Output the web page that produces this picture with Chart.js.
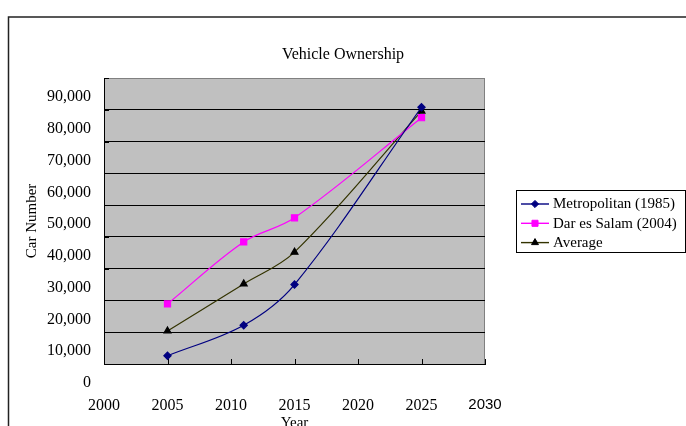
<!DOCTYPE html>
<html>
<head>
<meta charset="utf-8">
<script src="https://cdn.jsdelivr.net/npm/chart.js@4/dist/chart.umd.min.js"></script>
<style>
  html, body { margin: 0; padding: 0; background: #ffffff; }
  #wrap { position: relative; width: 686px; height: 426px; overflow: hidden; }
  canvas { display: block; }
</style>
</head>
<body>
<div id="wrap"><canvas id="c" width="686" height="426"></canvas></div>
<script>
// ---- data ----
const years = [2005, 2011, 2015, 2025];
const metropolitan = [2600, 12200, 25000, 80800];
const darEsSalam = [18900, 38400, 46000, 77500];
const average = [10400, 25200, 35200, 79600];
const seriesLabels = ['Metropolitan (1985)', 'Dar es Salam (2004)', 'Average'];
const xTicks = [2000, 2005, 2010, 2015, 2020, 2025, 2030];
const yTicks = [0, 10000, 20000, 30000, 40000, 50000, 60000, 70000, 80000, 90000];

const SERIF = "'Liberation Serif', 'Times New Roman', serif";
const SANS = "'Liberation Sans', Arial, sans-serif";

function pts(vals) { return years.map((y, i) => ({ x: y, y: vals[i] })); }

// frame, plot background, plot border, inner tick marks
const decor = {
  id: 'decor',
  beforeDraw(chart) {
    const ctx = chart.ctx, a = chart.chartArea;
    ctx.save();
    ctx.fillStyle = '#ffffff';
    ctx.fillRect(0, 0, chart.width, chart.height);
    ctx.strokeStyle = '#222222';
    ctx.lineWidth = 1.5;
    ctx.strokeRect(8.5, 17, 1000, 1000);
    ctx.fillStyle = '#C0C0C0';
    ctx.fillRect(a.left, a.top, a.right - a.left, a.bottom - a.top);
    ctx.strokeStyle = '#808080';
    ctx.lineWidth = 1;
    ctx.beginPath();
    ctx.moveTo(a.left, a.top + 0.5);
    ctx.lineTo(a.right - 0.5, a.top + 0.5);
    ctx.lineTo(a.right - 0.5, a.bottom);
    ctx.stroke();
    ctx.restore();
  },
  beforeDatasetsDraw(chart) {
    const ctx = chart.ctx, a = chart.chartArea, xs = chart.scales.x, ys = chart.scales.y;
    ctx.save();
    ctx.strokeStyle = '#000000';
    ctx.lineWidth = 1;
    ctx.beginPath();
    xTicks.forEach(v => {
      const px = Math.round(xs.getPixelForValue(v)) + 0.5;
      ctx.moveTo(px, a.bottom);
      ctx.lineTo(px, a.bottom - 5);
    });
    yTicks.forEach(v => {
      const py = Math.round(ys.getPixelForValue(v)) + 0.5;
      ctx.moveTo(a.left, py);
      ctx.lineTo(a.left + 5, py);
    });
    ctx.stroke();
    ctx.restore();
  }
};

function drawMarker(ctx, style, x, y, r, color) {
  ctx.fillStyle = color; ctx.strokeStyle = color; ctx.lineWidth = 1;
  ctx.beginPath();
  if (style === 'rectRot') {
    ctx.moveTo(x, y - r); ctx.lineTo(x + r, y); ctx.lineTo(x, y + r); ctx.lineTo(x - r, y);
  } else if (style === 'rect') {
    const s = r * Math.SQRT1_2;
    ctx.rect(x - s, y - s, 2 * s, 2 * s);
  } else {
    const h = r * 0.866;
    ctx.moveTo(x, y - r); ctx.lineTo(x + h, y + r / 2); ctx.lineTo(x - h, y + r / 2);
  }
  ctx.closePath(); ctx.fill(); ctx.stroke();
}

// boxed legend at the right (line sample + marker + label)
const boxLegend = {
  id: 'boxLegend',
  afterDraw(chart) {
    const ctx = chart.ctx;
    const L = 516.5, T = 190.5, W = 169, H = 62;
    ctx.save();
    ctx.strokeStyle = '#000000';
    ctx.lineWidth = 1;
    ctx.strokeRect(L, T, W, H);
    chart.data.datasets.forEach((ds, i) => {
      const y = 204 + i * 19.3;
      ctx.strokeStyle = ds.borderColor;
      ctx.lineWidth = 1.4;
      ctx.beginPath();
      ctx.moveTo(521, y); ctx.lineTo(549, y); ctx.stroke();
      drawMarker(ctx, ds.pointStyle, 535, y, ds.pointRadius, ds.pointBackgroundColor);
      ctx.fillStyle = '#000000';
      ctx.font = '15px ' + SERIF;
      ctx.textBaseline = 'middle';
      ctx.textAlign = 'left';
      ctx.fillText(ds.label, 553, y + 0.5);
    });
    ctx.restore();
  }
};

new Chart(document.getElementById('c'), {
  type: 'line',
  data: {
    datasets: [
      { label: seriesLabels[0], data: pts(metropolitan), borderColor: '#000080', borderWidth: 1.2,
        pointStyle: 'rectRot', pointRadius: 3.6, pointBackgroundColor: '#000080', pointBorderColor: '#000080',
        tension: 0.35, fill: false },
      { label: seriesLabels[1], data: pts(darEsSalam), borderColor: '#FF00FF', borderWidth: 1.2,
        pointStyle: 'rect', pointRadius: 4.3, pointBackgroundColor: '#FF00FF', pointBorderColor: '#FF00FF',
        tension: 0.35, fill: false },
      { label: seriesLabels[2], data: pts(average), borderColor: '#333300', borderWidth: 1.2,
        pointStyle: 'triangle', pointRadius: 4, pointBackgroundColor: '#000000', pointBorderColor: '#000000',
        tension: 0.35, fill: false }
    ]
  },
  options: {
    responsive: false,
    animation: false,
    events: [],
    layout: { padding: { left: 0, right: 0, top: 30, bottom: 0 } },
    plugins: {
      legend: { display: false },
      tooltip: { enabled: false },
      title: {
        display: true, text: 'Vehicle Ownership', color: '#000000',
        font: { family: SERIF, size: 16, weight: 'normal' },
        padding: { top: 15.4, bottom: 13.4 }
      }
    },
    scales: {
      x: {
        type: 'linear', min: 2000, max: 2030,
        afterBuildTicks: s => { s.ticks = xTicks.map(v => ({ value: v })); },
        afterFit: s => { s.height = 62; },
        grid: { display: false },
        border: { display: true, color: '#000000', width: 1 },
        ticks: {
          color: '#000000', padding: 24, maxRotation: 0, autoSkip: false,
          font: c => (c.tick && c.tick.value === 2030) ? { family: SANS, size: 15 } : { family: SERIF, size: 16 },
          callback: v => String(v)
        },
        title: {
          display: true, text: 'Year', color: '#000000',
          font: { family: SERIF, size: 15, weight: 'normal' },
          padding: { top: 0, bottom: -6 }
        }
      },
      y: {
        min: 0, max: 90000,
        afterBuildTicks: s => { s.ticks = yTicks.map(v => ({ value: v })); },
        afterFit: s => { s.width = 104; },
        grid: {
          color: c => (c.tick && c.tick.value === 90000) ? '#808080' : '#000000',
          lineWidth: 1, drawTicks: false
        },
        border: { display: true, color: '#000000', width: 1 },
        ticks: {
          color: '#000000', padding: 13, labelOffset: 19,
          font: { family: SERIF, size: 16 },
          callback: v => v.toLocaleString('en-US')
        },
        title: {
          display: true, text: 'Car Number', color: '#000000',
          font: { family: SERIF, size: 15, weight: 'normal' },
          padding: { top: 23, bottom: 0 }
        }
      },
      // empty right-hand band that reserves the legend column
      side: {
        position: 'right', min: 0, max: 1,
        afterFit: s => { s.width = 201; },
        grid: { display: false, drawOnChartArea: false },
        border: { display: false },
        ticks: { display: false }
      }
    }
  },
  plugins: [decor, boxLegend]
});
</script>
</body>
</html>
